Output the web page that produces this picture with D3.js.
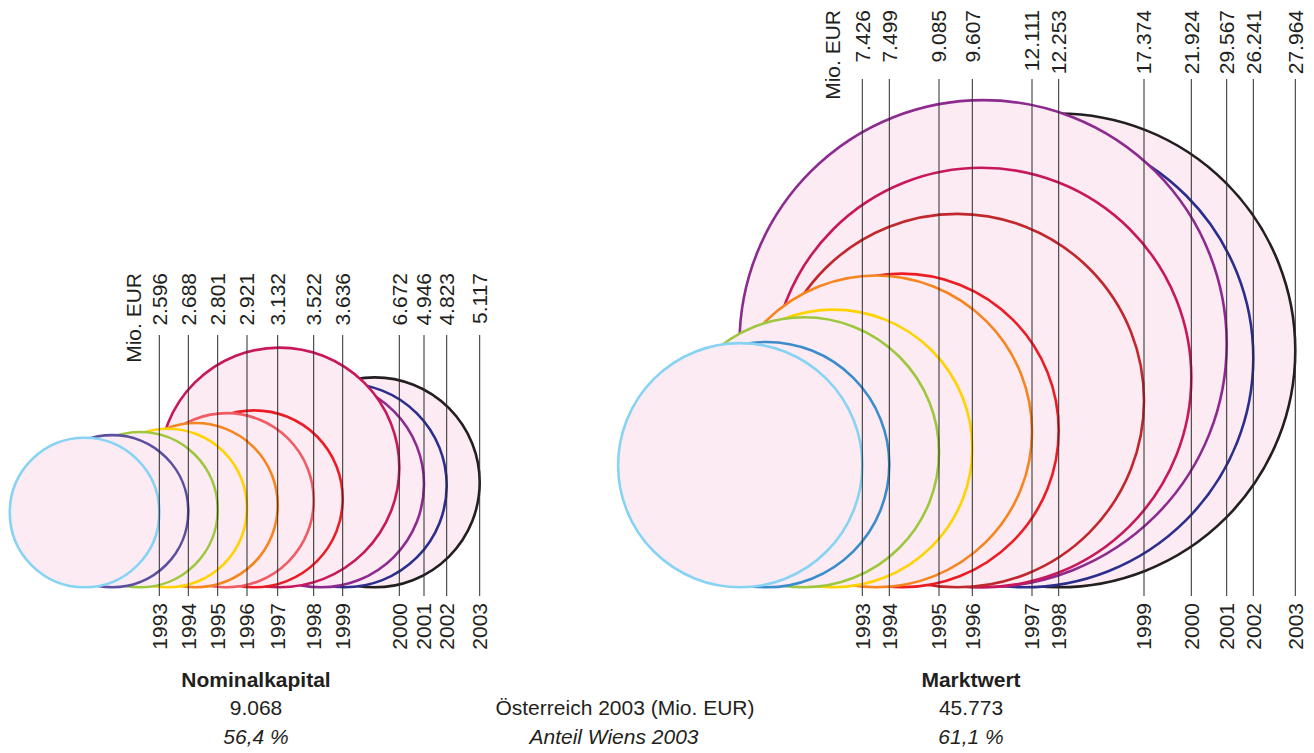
<!DOCTYPE html>
<html>
<head>
<meta charset="utf-8">
<script src="https://cdn.jsdelivr.net/npm/d3@7"></script>
<style>
html, body { margin: 0; padding: 0; background: #ffffff; }
svg text { font-family: "Liberation Sans", Arial, Helvetica, sans-serif; fill: #231f20; }
</style>
</head>
<body>
<svg id="chart" width="1314" height="753"></svg>
<script>
// ---------- data ----------
const years = ["1993", "1994", "1995", "1996", "1997", "1998", "1999", "2000", "2001", "2002", "2003"];
const nominalValues = [2596, 2688, 2801, 2921, 3132, 3522, 3636, 6672, 4946, 4823, 5117];   // Mio. EUR
const marketValues  = [7426, 7499, 9085, 9607, 12111, 12253, 17374, 21924, 29567, 26241, 27964]; // Mio. EUR
const panelTitles = ["Nominalkapital", "Marktwert"];
const austriaTotals = [9068, 45773];
const viennaShares = [56.4, 61.1];
const middleLabels = ["Österreich 2003 (Mio. EUR)", "Anteil Wiens 2003"];
const unitLabel = "Mio. EUR";

// ---------- styles / layout (not data) ----------
const nominalColors = ["#86d3f4", "#5b4f9f", "#9dc73c", "#ffd200", "#f6841f", "#f15b63", "#ec1c24", "#c8185b", "#8d2a8f", "#2b2e8c", "#231f20"];
const marketColors  = ["#86d3f4", "#3b8ccb", "#9dc73c", "#ffd200", "#f6841f", "#ec1c24", "#c1272d", "#c8185b", "#8d2a8f", "#2b2e8c", "#231f20"];
// horizontal position of each year's guide line (right edge of the circle)
const nominalEdges = [159.3, 188.3, 217.7, 247.0, 277.7, 313.7, 342.7, 399.3, 424.0, 446.7, 479.7];
const marketEdges  = [862.3, 889.3, 939.0, 972.3, 1032.0, 1058.7, 1144.0, 1191.3, 1226.7, 1253.3, 1295.3];

const W = 1314, H = 753;
const baseline = 587.3;
const lineBottom = 596;
const yearLabelTop = 603;
const fontSize = 21;

const svg = d3.select("#chart");
const x = d3.scaleLinear().domain([0, W]).range([0, W]);

const loc = d3.formatLocale({ decimal: ",", thousands: ".", grouping: [3], currency: ["", " €"] });
const fmtInt = loc.format(",d");
const fmtPct = v => loc.format(".1f")(v) + " %";

function drawPanel(values, colors, edges, rMaxPx, labelTop, lineTop, unitOffset) {
  const r = d3.scaleSqrt().domain([0, d3.max(values)]).range([0, rMaxPx]);
  const rows = years.map((yr, i) => ({ yr, v: values[i], c: colors[i], e: edges[i] }));
  const g = svg.append("g");

  // circles: later years drawn first so earlier ones sit on top
  g.append("g").selectAll("circle")
    .data(rows.slice().reverse())
    .join("circle")
    .attr("cx", d => x(d.e) - r(d.v))
    .attr("cy", d => baseline - r(d.v))
    .attr("r", d => r(d.v))
    .attr("fill", "#fcebf3")
    .attr("stroke", d => d.c)
    .attr("stroke-width", 2.6);

  // guide lines
  g.append("g").selectAll("line")
    .data(rows)
    .join("line")
    .attr("x1", d => x(d.e)).attr("x2", d => x(d.e))
    .attr("y1", lineTop).attr("y2", lineBottom)
    .attr("stroke", "#2a2a2a")
    .attr("stroke-width", 1);

  // value labels
  g.append("g").selectAll("text")
    .data(rows)
    .join("text")
    .attr("transform", d => `translate(${x(d.e)},${labelTop}) rotate(-90)`)
    .attr("text-anchor", "end")
    .attr("dy", "0.35em")
    .attr("font-size", fontSize)
    .text(d => fmtInt(d.v));

  // year labels
  g.append("g").selectAll("text")
    .data(rows)
    .join("text")
    .attr("transform", d => `translate(${x(d.e)},${yearLabelTop}) rotate(-90)`)
    .attr("text-anchor", "end")
    .attr("dy", "0.35em")
    .attr("font-size", fontSize)
    .text(d => d.yr);

  // unit label
  g.append("text")
    .attr("transform", `translate(${x(edges[0]) - unitOffset},${labelTop}) rotate(-90)`)
    .attr("text-anchor", "end")
    .attr("dy", "0.35em")
    .attr("font-size", fontSize)
    .text(unitLabel);
}

drawPanel(nominalValues, nominalColors, nominalEdges, 119.85, 273, 335, 26);
drawPanel(marketValues, marketColors, marketEdges, 243.6, 10, 79, 30);

// ---------- footer ----------
const footerX = [256, 971];
const footer = svg.append("g");
footer.selectAll("text.title")
  .data(panelTitles)
  .join("text")
  .attr("class", "title")
  .attr("x", (d, i) => x(footerX[i])).attr("y", 687)
  .attr("text-anchor", "middle").attr("font-size", fontSize).attr("font-weight", "bold")
  .text(d => d);
footer.selectAll("text.total")
  .data(austriaTotals)
  .join("text")
  .attr("class", "total")
  .attr("x", (d, i) => x(footerX[i])).attr("y", 715)
  .attr("text-anchor", "middle").attr("font-size", fontSize)
  .text(d => fmtInt(d));
footer.selectAll("text.share")
  .data(viennaShares)
  .join("text")
  .attr("class", "share")
  .attr("x", (d, i) => x(footerX[i])).attr("y", 744)
  .attr("text-anchor", "middle").attr("font-size", fontSize).attr("font-style", "italic")
  .text(d => fmtPct(d));
footer.append("text")
  .attr("x", x(625)).attr("y", 715)
  .attr("text-anchor", "middle").attr("font-size", fontSize)
  .text(middleLabels[0]);
footer.append("text")
  .attr("x", x(614)).attr("y", 744)
  .attr("text-anchor", "middle").attr("font-size", fontSize).attr("font-style", "italic")
  .text(middleLabels[1]);
</script>
</body>
</html>
